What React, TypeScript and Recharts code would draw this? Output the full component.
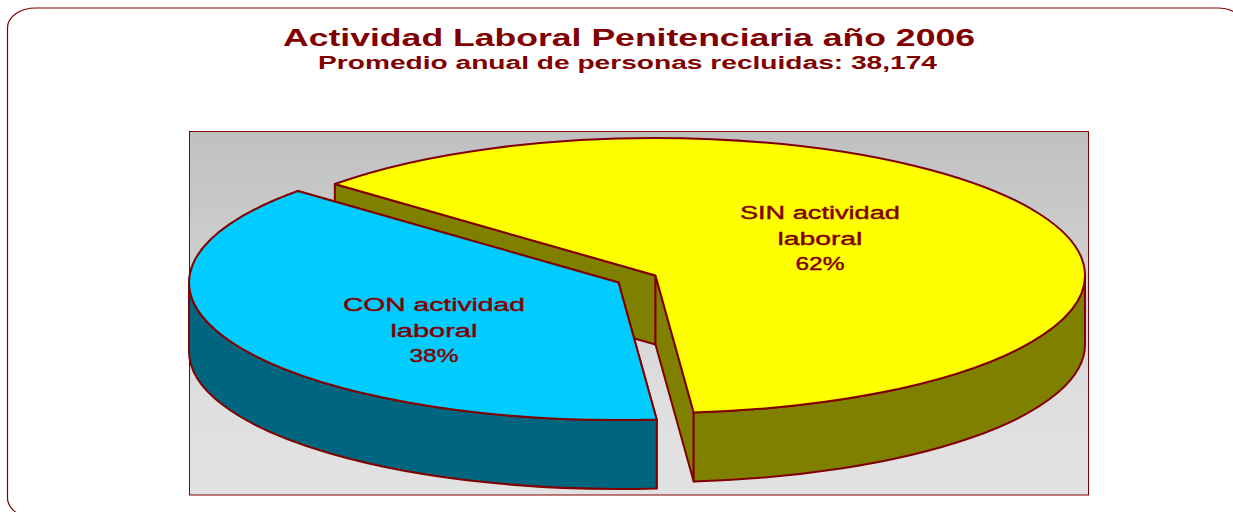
import React from "react";
import { Pie, PieChart } from "recharts";

const categories = ["SIN actividad laboral", "CON actividad laboral"];
const values = [62, 38];
const title = "Actividad Laboral Penitenciaria año 2006";
const subtitle = "Promedio anual de personas recluidas: 38,174";

const topColors = ["#ffff00", "#00ccff"];
const wallColors = ["#808000", "#006680"];
const lineColor = "#800000";

const W = 1233;
const H = 512;
const CX = 655.5;
const CY = 275.5;
const RX = 429.5;
const RY = 137.5;
const DEPTH = 69;
const FONT = "'Liberation Sans', Arial, sans-serif";

// the CON slice is pulled out of the pie
const explode = [
  { x: 0, y: 0 },
  { x: -37, y: 7 },
];
// label anchor as fraction of the ellipse radii, and stretched line widths
const labelFrac = [
  { x: 0.4285, y: 0.497 },
  { x: 0.481, y: 0.88 },
];
const labelWidths = [
  [160, 85, 49],
  [182, 87, 49],
];
const lineOffsets = [-26, 0, 25];

function rad(a: number) {
  return (a * Math.PI) / 180;
}

function Slice3D(props: any) {
  const i = categories.indexOf(props.name);
  const { startAngle, endAngle, cx, cy, outerRadius } = props;
  const rx = outerRadius;
  const ry = outerRadius * (RY / RX);
  const x0 = cx + explode[i].x;
  const y0 = cy + explode[i].y;
  const pt = (a: number, d = 0) => `${x0 + rx * Math.cos(rad(a))} ${y0 - ry * Math.sin(rad(a)) + d}`;
  const large = startAngle - endAngle > 180 ? 1 : 0;

  const hi = Math.min(startAngle, 0);
  const lo = Math.max(endAngle, -180);

  const paint = { stroke: lineColor, strokeWidth: 2, strokeLinejoin: "round" as const };
  const cutWall = (a: number) =>
    `M${x0} ${y0}L${pt(a)}L${pt(a, DEPTH)}L${x0} ${y0 + DEPTH}Z`;

  return (
    <g>
      <path d={cutWall(startAngle)} fill={wallColors[i]} {...paint} />
      <path d={cutWall(endAngle)} fill={wallColors[i]} {...paint} />
      <path
        d={`M${pt(hi)}A${rx} ${ry} 0 0 1 ${pt(lo)}L${pt(lo, DEPTH)}A${rx} ${ry} 0 0 0 ${pt(hi, DEPTH)}Z`}
        fill={wallColors[i]}
        {...paint}
      />
      <path
        d={`M${x0} ${y0}L${pt(startAngle)}A${rx} ${ry} 0 ${large} 1 ${pt(endAngle)}Z`}
        fill={topColors[i]}
        {...paint}
      />
    </g>
  );
}

function SliceLabel(props: any) {
  const i = categories.indexOf(props.name);
  const mid = props.midAngle;
  const x = props.cx + explode[i].x + labelFrac[i].x * RX * Math.cos(rad(mid));
  const y = props.cy + explode[i].y - labelFrac[i].y * RY * Math.sin(rad(mid));
  const words = props.name.split(" ");
  const lines = [words.slice(0, 2).join(" "), words[2], `${values[i]}%`];
  return (
    <g>
      {lines.map((line, k) => (
        <text
          key={k}
          x={x}
          y={y + lineOffsets[k]}
          textAnchor="middle"
          fontFamily={FONT}
          fontSize={18}
          fill={lineColor}
          stroke={lineColor}
          strokeWidth={0.4}
          textLength={labelWidths[i][k]}
          lengthAdjust="spacingAndGlyphs"
        >
          {line}
        </text>
      ))}
    </g>
  );
}

const chartData = categories.map((name, i) => ({ name, value: values[i] }));

export default function App() {
  return (
    <div style={{ position: "fixed", left: 0, top: 0, width: W, height: H, background: "#fff", overflow: "hidden" }}>
      <PieChart width={W} height={H} margin={{ top: 0, right: 0, bottom: 0, left: 0 }}>
        <defs>
          <linearGradient id="plotBg" x1="0" y1="0" x2="0" y2="1">
            <stop offset="0" stopColor="#c0c0c0" />
            <stop offset="0.75" stopColor="#dfdfdf" />
            <stop offset="1" stopColor="#e2e2e2" />
          </linearGradient>
        </defs>
        <rect x={7.5} y={8} width={1238} height={510} rx={28} ry={20} fill="none" stroke={lineColor} strokeWidth={1.2} />
        <rect x={189.5} y={131.5} width={899} height={363.5} fill="url(#plotBg)" stroke={lineColor} strokeWidth={1} />
        <text x={283} y={45.5} fontFamily={FONT} fontWeight="bold" fontSize={23.5} fill={lineColor} textLength={692} lengthAdjust="spacingAndGlyphs">
          {title}
        </text>
        <text x={318} y={68.5} fontFamily={FONT} fontWeight="bold" fontSize={17.5} fill={lineColor} textLength={619} lengthAdjust="spacingAndGlyphs">
          {subtitle}
        </text>
        <Pie
          data={chartData}
          dataKey="value"
          nameKey="name"
          cx={CX}
          cy={CY}
          innerRadius={0}
          outerRadius={RX}
          startAngle={138.3}
          endAngle={-221.7}
          stroke="none"
          shape={Slice3D}
          label={SliceLabel}
          labelLine={false}
          isAnimationActive={false}
        />
      </PieChart>
    </div>
  );
}
